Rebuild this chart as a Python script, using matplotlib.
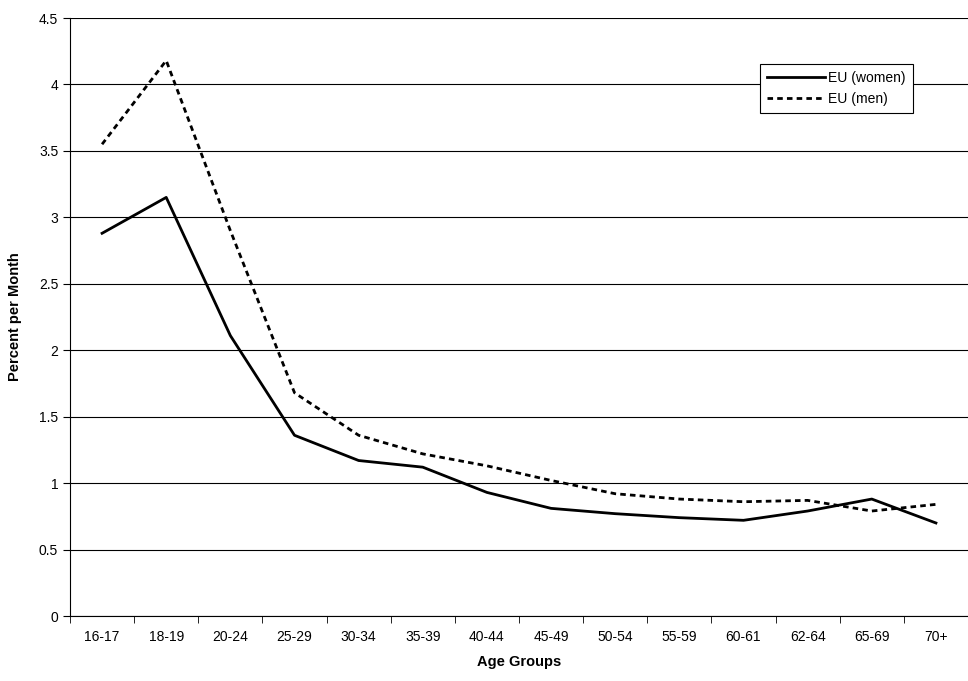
import numpy as np
import matplotlib.pyplot as plt

plt.rcParams['font.family'] = ['Liberation Sans', 'DejaVu Sans']

ages = ['16-17', '18-19', '20-24', '25-29', '30-34', '35-39', '40-44', '45-49',
        '50-54', '55-59', '60-61', '62-64', '65-69', '70+']
women = [2.88, 3.15, 2.11, 1.36, 1.17, 1.12, 0.93, 0.81, 0.77, 0.74, 0.72, 0.79, 0.88, 0.70]
men = [3.55, 4.18, 2.90, 1.68, 1.36, 1.22, 1.13, 1.02, 0.92, 0.88, 0.86, 0.87, 0.79, 0.84]

fig = plt.figure(figsize=(9.68, 6.81), dpi=100)
ax = fig.add_axes([70/968, 1 - 616/681, 898/968, 598/681])
x = np.arange(len(ages))
ax.plot(x, women, color='black', lw=2, label='EU (women)')
ax.plot(x, men, color='black', lw=2, ls=(0, (2, 1.5)), label='EU (men)')
ax.set_xlim(-0.5, len(ages) - 0.5)
ax.set_ylim(0, 4.5)
ax.set_yticks(np.arange(0, 4.51, 0.5))
ax.set_yticklabels(['0', '0.5', '1', '1.5', '2', '2.5', '3', '3.5', '4', '4.5'])
ax.set_xticks(x)
ax.set_xticklabels(ages)
ax.set_xticks(np.arange(-0.5, len(ages), 1), minor=True)
ax.tick_params(axis='x', which='major', length=0, pad=10)
ax.tick_params(axis='x', which='minor', length=5, direction='out')
ax.tick_params(axis='y', length=5, direction='out')
ax.tick_params(labelsize=10)
ax.grid(axis='y', color='black', lw=0.8)
ax.set_axisbelow(True)
for s in ['top', 'right']:
    ax.spines[s].set_visible(False)
ax.set_xlabel('Age Groups', fontsize=10.5, fontweight='bold', labelpad=8)
ax.set_ylabel('Percent per Month', fontsize=10.5, fontweight='bold', labelpad=12)
leg = ax.legend(loc='upper right', bbox_to_anchor=(0.946, 0.935), fontsize=10,
                frameon=True, fancybox=False, edgecolor='black', framealpha=1,
                handlelength=4.2, borderpad=0.5, labelspacing=0.5, handletextpad=0.2)
leg.get_frame().set_linewidth(0.8)
fig.savefig('out.png', dpi=100)
